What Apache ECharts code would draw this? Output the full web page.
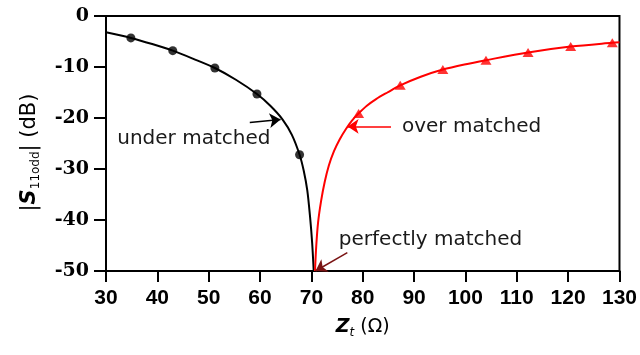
<!DOCTYPE html>
<html>
<head>
<meta charset="utf-8">
<script src="https://cdn.jsdelivr.net/npm/echarts@6/dist/echarts.min.js"></script>
<style>
  html, body { margin: 0; padding: 0; background: #fff; }
  #chart { width: 640px; height: 355px; }
</style>
</head>
<body>
<div id="chart"></div>
<script>
// x axis ticks (Zt, ohm) and y axis ticks (dB)
var xTicks = [30, 40, 50, 60, 70, 80, 90, 100, 110, 120, 130];
var yTicks = [-50, -40, -30, -20, -10, 0];

// under matched curve (black)
var underX = [30, 34.85, 39, 43, 47, 51.2, 55.3, 59.4, 62, 64.4, 66.2, 67.7, 68.5, 69.2, 69.75, 70.15, 70.45];
var underY = [-3.2, -4.3, -5.5, -6.8, -8.4, -10.2, -12.5, -15.3, -17.6, -20.3, -23.3, -27.2, -30.3, -34.2, -39.5, -44.5, -50];
// circle markers on it
var underMarkX = [34.85, 43, 51.2, 59.4, 67.7];
var underMarkY = [-4.3, -6.8, -10.2, -15.3, -27.2];

// over matched curve (red)
var overX = [70.7, 70.95, 71.3, 71.9, 72.6, 73.4, 74.4, 75.5, 76.7, 77.9, 79.2, 80.8, 82.6, 84.8, 87.3, 91.3, 95.6, 99.8, 104, 112.2, 120.5, 128.6, 130];
var overY = [-50, -45, -40.5, -36.2, -32.5, -29.3, -26.5, -24.2, -22.2, -20.5, -19.1, -17.6, -16.3, -15, -13.6, -11.9, -10.5, -9.5, -8.66, -7.15, -6.0, -5.25, -5.15];
// triangle markers on it
var overMarkX = [79.2, 87.3, 95.6, 104, 112.2, 120.5, 128.6];
var overMarkY = [-19.1, -13.6, -10.5, -8.66, -7.15, -6.0, -5.25];

// annotations: text and arrows (in data units)
var noteText = ['under matched', 'over matched', 'perfectly matched'];
var noteAt = [[47.1, -24.1], [101.2, -21.65], [93.2, -43.8]];
var arrowFrom = [[58.0, -20.9], [85.5, -21.65], [77.0, -46.4]];
var arrowTo = [[64.0, -20.3], [77.05, -21.65], [70.8, -50]];
var arrowColor = ['#000', '#ff0000', '#7a1414'];

function zip(xs, ys) {
    return xs.map(function (x, i) { return [x, ys[i]]; });
}

var chart = echarts.init(document.getElementById('chart'));

var option = {
    animation: false,
    grid: {
        left: 106, right: 19, top: 16, bottom: 84,
        show: true, borderColor: '#000', borderWidth: 2
    },
    xAxis: {
        type: 'value',
        min: xTicks[0], max: xTicks[xTicks.length - 1], interval: 10,
        name: '{z|Z}{t|t}{n| (Ω)}',
        nameLocation: 'middle',
        nameGap: 44,
        nameTextStyle: {
            rich: {
                z: { fontFamily: 'DejaVu Sans', fontWeight: 'bold', fontStyle: 'italic', fontSize: 19, color: '#000', lineHeight: 24, verticalAlign: 'middle' },
                t: { fontFamily: 'DejaVu Sans', fontStyle: 'italic', fontSize: 12, color: '#000', lineHeight: 14, verticalAlign: 'bottom' },
                n: { fontFamily: 'DejaVu Sans', fontSize: 19, color: '#000', lineHeight: 24, verticalAlign: 'middle' }
            }
        },
        axisLine: { onZero: false, lineStyle: { color: '#000', width: 2 } },
        axisTick: { length: 11, lineStyle: { color: '#000', width: 2 } },
        axisLabel: { margin: 17, color: '#000', fontFamily: 'Liberation Sans', fontWeight: 'bold', fontSize: 21 },
        splitLine: { show: false }
    },
    yAxis: {
        type: 'value',
        min: yTicks[0], max: yTicks[yTicks.length - 1], interval: 10,
        name: '{b||}{s|S}{sub|11odd}{b|| (dB)}',
        nameLocation: 'middle',
        nameRotate: 90,
        nameGap: 64,
        nameTextStyle: {
            padding: [0, 18, 0, 0],
            rich: {
                b: { fontFamily: 'DejaVu Sans', fontSize: 21, color: '#000', lineHeight: 24, verticalAlign: 'middle' },
                s: { fontFamily: 'DejaVu Sans', fontWeight: 'bold', fontStyle: 'italic', fontSize: 21, color: '#000', lineHeight: 24, verticalAlign: 'middle' },
                sub: { fontFamily: 'DejaVu Sans', fontSize: 12, color: '#000', lineHeight: 14, verticalAlign: 'bottom' }
            }
        },
        axisLine: { onZero: false, lineStyle: { color: '#000', width: 2 } },
        axisTick: { length: 12, lineStyle: { color: '#000', width: 2 } },
        axisLabel: { margin: 17, color: '#000', fontFamily: 'DejaVu Serif', fontWeight: 'bold', fontSize: 19 },
        splitLine: { show: false }
    },
    series: [
        {
            type: 'line',
            data: zip(underX, underY),
            smooth: 0.3,
            showSymbol: false,
            lineStyle: { color: '#000', width: 2 },
            markLine: {
                silent: true,
                symbol: ['none', 'arrow'],
                symbolSize: 11,
                label: { show: false },
                data: arrowFrom.map(function (p, i) {
                    var st = { color: arrowColor[i], width: 1.5, type: 'solid' };
                    return [
                        { coord: p, lineStyle: st, itemStyle: { color: arrowColor[i] } },
                        { coord: arrowTo[i], lineStyle: st, itemStyle: { color: arrowColor[i] } }
                    ];
                })
            },
            markPoint: {
                silent: true,
                symbol: 'circle',
                symbolSize: 0,
                data: noteText.map(function (t, i) {
                    return {
                        coord: noteAt[i],
                        label: {
                            show: true, position: 'inside', formatter: t,
                            color: '#1a1a1a', fontFamily: 'DejaVu Sans', fontSize: 20
                        }
                    };
                })
            }
        },
        {
            type: 'line',
            data: zip(overX, overY),
            smooth: 0.3,
            showSymbol: false,
            lineStyle: { color: '#ff0000', width: 2 }
        },
        {
            type: 'scatter',
            data: zip(underMarkX, underMarkY),
            symbol: 'circle',
            symbolSize: 9,
            itemStyle: { color: '#000' }
        },
        {
            type: 'scatter',
            data: zip(overMarkX, overMarkY),
            symbol: 'triangle',
            symbolSize: [11, 9],
            itemStyle: { color: '#ff0000' }
        }
    ]
};

chart.setOption(option);
</script>
</body>
</html>
